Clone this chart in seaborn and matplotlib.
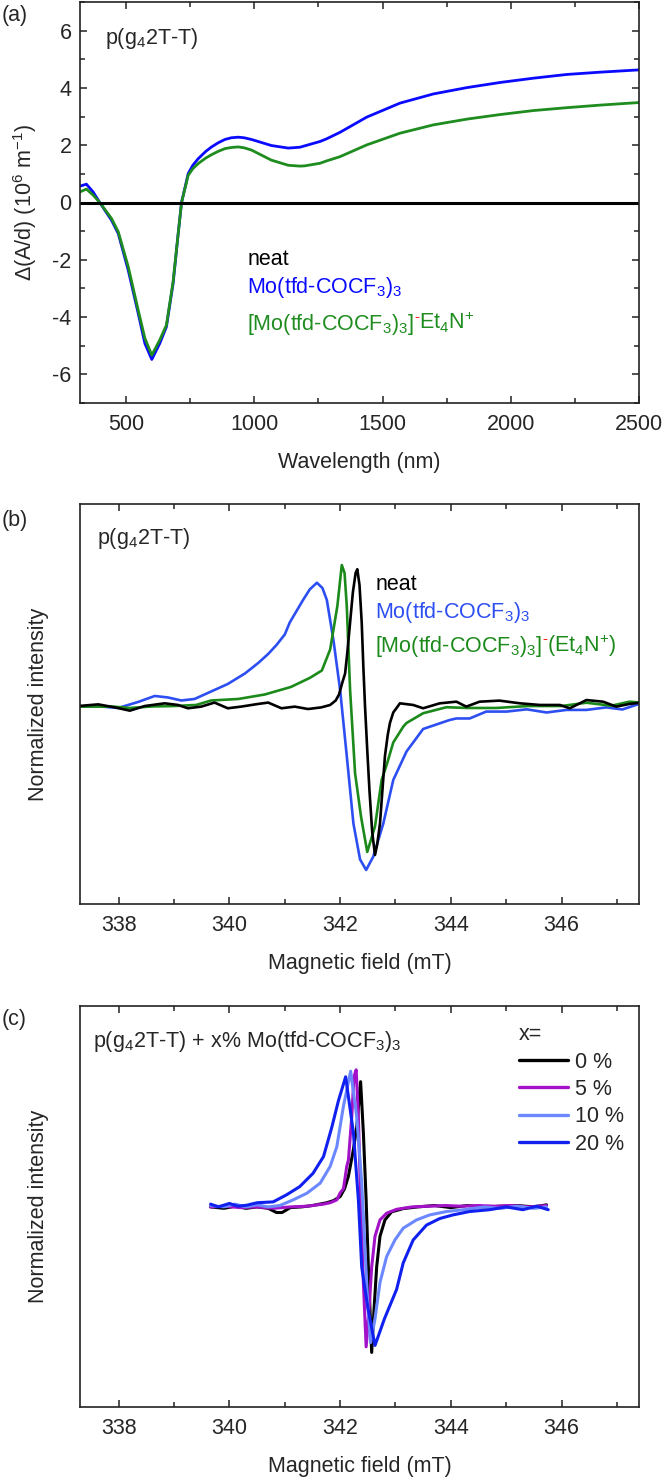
"""
Three stacked panels: UV-vis-NIR difference spectra and EPR spectra
"""

import matplotlib
matplotlib.use('Agg')
import matplotlib.pyplot as plt
from matplotlib.ticker import MultipleLocator, NullLocator
from matplotlib.lines import Line2D
from matplotlib.transforms import offset_copy
import seaborn as sns

# ---- panel (a): difference absorbance, 10^6 m^-1 ----
wl_a = [320, 345, 371, 397, 443, 469, 508, 547, 573, 600, 631, 657, 683, 703, 716,
        742, 760, 781, 810, 833, 860, 885, 910, 937, 960, 989, 1066, 1132, 1178, 1197,
        1256, 1281, 1334, 1438, 1568, 1698, 1828, 1958, 2088, 2218, 2348, 2500]
mo_a = [0.57, 0.64, 0.37, 0.0, -0.62, -1.08, -2.36, -3.87, -4.92, -5.48, -4.92, -4.34,
        -2.83, -1.08, 0.0, 1.01, 1.30, 1.53, 1.78, 1.94, 2.09, 2.20, 2.26, 2.28, 2.26,
        2.20, 1.99, 1.90, 1.93, 1.98, 2.13, 2.22, 2.45, 2.98, 3.47, 3.79, 4.01, 4.19,
        4.34, 4.47, 4.55, 4.63]
anion_a = [0.37, 0.47, 0.26, 0.0, -0.56, -1.02, -2.24, -3.76, -4.74, -5.33, -4.80, -4.28,
           -2.77, -1.08, 0.0, 0.95, 1.18, 1.36, 1.55, 1.67, 1.79, 1.88, 1.92, 1.94, 1.91,
           1.83, 1.48, 1.30, 1.27, 1.28, 1.37, 1.45, 1.60, 2.01, 2.42, 2.71, 2.91, 3.07,
           3.21, 3.31, 3.40, 3.49]
neat_a = [0.0] * len(wl_a)

# ---- panel (b): EPR, normalized ----
b_neat_x = [337.27, 337.63, 337.93, 338.20, 338.47, 338.83, 339.07, 339.25, 339.49, 339.73,
            339.97, 340.21, 340.52, 340.70, 340.94, 341.18, 341.42, 341.66, 341.82, 341.92,
            341.98, 342.04, 342.09, 342.13, 342.18, 342.23, 342.28, 342.31, 342.35, 342.39,
            342.42, 342.45, 342.49, 342.53, 342.58, 342.63, 342.67, 342.72, 342.81, 342.86,
            342.90, 342.96, 343.02, 343.08, 343.32, 343.50, 343.80, 344.10, 344.28, 344.52,
            344.88, 345.25, 345.61, 345.97, 346.15, 346.45, 346.75, 346.99, 347.23, 347.44]
b_neat_y = [-0.007, 0.004, -0.016, -0.038, -0.007, 0.011, 0.0, -0.022, -0.011, 0.016,
            -0.022, -0.011, 0.007, 0.016, -0.022, -0.011, -0.027, -0.016, 0.0, 0.03,
            0.07, 0.15, 0.21, 0.35, 0.55, 0.75, 0.88, 0.905, 0.80, 0.55,
            0.25, -0.01, -0.30, -0.57, -0.85, -1.0, -0.93, -0.79, -0.34, -0.20,
            -0.12, -0.05, -0.02, 0.011, 0.0, -0.022, 0.011, 0.022, -0.011, 0.022,
            0.029, 0.011, 0.0, 0.0, -0.022, 0.033, 0.022, -0.011, 0.007, 0.016]

b_mo_x = [337.27, 337.70, 337.99, 338.35, 338.65, 338.89, 339.13, 339.37, 339.67, 339.97,
          340.28, 340.52, 340.70, 340.85, 341.00, 341.09, 341.33, 341.45, 341.58, 341.68,
          341.76, 341.88, 342.00, 342.12, 342.24, 342.36, 342.47, 342.60, 342.78, 342.96,
          343.20, 343.50, 343.74, 343.98, 344.10, 344.34, 344.64, 345.01, 345.37, 345.73,
          346.09, 346.45, 346.81, 347.10, 347.40]
b_mo_y = [-0.011, -0.011, -0.02, 0.02, 0.06, 0.05, 0.03, 0.04, 0.09, 0.14,
          0.21, 0.28, 0.34, 0.40, 0.47, 0.55, 0.70, 0.77, 0.815, 0.78,
          0.70, 0.43, 0.10, -0.34, -0.79, -1.03, -1.10, -1.01, -0.79, -0.50,
          -0.31, -0.16, -0.13, -0.10, -0.09, -0.09, -0.044, -0.044, -0.029, -0.05,
          -0.033, -0.033, -0.016, -0.03, 0.007]

b_anion_x = [337.27, 337.90, 338.20, 338.60, 339.00, 339.40, 339.67, 340.16, 340.64, 341.11,
             341.45, 341.67, 341.82, 341.95, 342.03, 342.08, 342.12, 342.18, 342.27, 342.38,
             342.49, 342.63, 342.75, 342.84, 342.96, 343.14, 343.20, 343.50, 343.92, 344.30,
             344.82, 345.40, 346.00, 346.45, 346.90, 347.23, 347.44]
b_anion_y = [-0.011, -0.011, -0.02, -0.01, -0.007, 0.0, 0.03, 0.04, 0.07, 0.12,
             0.18, 0.23, 0.37, 0.66, 0.933, 0.88, 0.66, 0.10, -0.455, -0.75,
             -0.98, -0.81, -0.50, -0.40, -0.25, -0.145, -0.12, -0.055, -0.015, -0.02,
             -0.02, -0.007, -0.007, 0.015, -0.005, 0.022, 0.016]

# ---- panel (c): EPR vs dopant fraction ----
c_labels = ['0 %', '5 %', '10 %', '20 %']

c0_x = [339.66, 339.90, 340.10, 340.30, 340.50, 340.70, 340.85, 340.95, 341.10, 341.30,
        341.50, 341.76, 341.88, 342.00, 342.08, 342.15, 342.24, 342.30, 342.37, 342.42,
        342.47, 342.51, 342.57, 342.61, 342.66, 342.72, 342.81, 342.93, 343.14, 343.40,
        343.70, 344.00, 344.30, 344.60, 344.90, 345.20, 345.50, 345.73]
c0_y = [0.0, -0.01, 0.005, -0.01, 0.0, -0.01, -0.04, -0.04, -0.005, 0.0,
        0.01, 0.03, 0.045, 0.074, 0.13, 0.22, 0.41, 0.57, 0.895, 0.53,
        0.05, -0.43, -1.04, -0.75, -0.43, -0.21, -0.093, -0.035, -0.012, 0.0,
        0.01, -0.005, 0.01, 0.0, 0.005, 0.01, 0.0, 0.015]

c5_x = [339.66, 339.90, 340.20, 340.50, 340.80, 341.10, 341.40, 341.70, 341.82, 341.94,
        342.00, 342.06, 342.12, 342.15, 342.21, 342.25, 342.29, 342.33, 342.37, 342.42,
        342.47, 342.52, 342.57, 342.63, 342.72, 342.84, 343.02, 343.30, 343.60, 343.90,
        344.20, 344.50, 344.80, 345.10, 345.40, 345.73]
c5_y = [0.0, 0.005, -0.005, 0.0, -0.01, 0.0, 0.005, 0.02, 0.03, 0.05,
        0.10, 0.13, 0.29, 0.335, 0.645, 0.93, 0.98, 0.645, 0.05, -0.54,
        -1.0, -0.75, -0.43, -0.21, -0.093, -0.045, -0.017, 0.0, 0.005, 0.01,
        0.005, 0.01, 0.005, 0.01, 0.0, 0.01]

c10_x = [339.66, 339.90, 340.10, 340.30, 340.50, 340.70, 340.91, 341.15, 341.40, 341.64,
         341.82, 341.94, 342.06, 342.19, 342.30, 342.39, 342.45, 342.50, 342.55, 342.63,
         342.72, 342.84, 342.99, 343.14, 343.38, 343.62, 343.92, 344.30, 344.60, 344.90,
         345.20, 345.50, 345.73]
c10_y = [0.01, 0.0, 0.02, 0.0, 0.015, 0.0, 0.01, 0.05, 0.098, 0.17,
         0.29, 0.43, 0.72, 0.97, 0.645, 0.17, -0.31, -0.70, -0.97, -0.80,
         -0.54, -0.355, -0.236, -0.152, -0.093, -0.057, -0.033, -0.017, 0.0, -0.01,
         0.005, -0.01, 0.0]

c20_x = [339.66, 339.80, 340.00, 340.15, 340.31, 340.50, 340.79, 341.03, 341.27, 341.51,
         341.70, 341.85, 341.97, 342.10, 342.24, 342.33, 342.39, 342.50, 342.63, 342.80,
         343.02, 343.14, 343.32, 343.56, 343.80, 344.04, 344.34, 344.70, 345.00, 345.30,
         345.55, 345.76]
c20_y = [0.02, 0.0, 0.025, 0.005, 0.012, 0.03, 0.036, 0.086, 0.145, 0.24,
         0.36, 0.57, 0.76, 0.93, 0.53, 0.05, -0.43, -0.72, -0.99, -0.80,
         -0.59, -0.40, -0.236, -0.13, -0.083, -0.057, -0.033, -0.02, 0.0, -0.02,
         0.005, -0.02]

# colours
BLUE_A, GREEN_A = '#0a0aff', '#1e8c1e'
BLUE_B, GREEN_B = '#2d4ff2', '#1b8a1b'
C_COLORS = ['#000000', '#a312c8', '#6c88ff', '#1020ee']
RED = '#ff1a1a'

sns.set_theme(style='ticks')
plt.rcParams['font.family'] = ['Liberation Sans', 'DejaVu Sans']
plt.rcParams['mathtext.fontset'] = 'custom'
plt.rcParams['mathtext.rm'] = 'Liberation Sans'
plt.rcParams['mathtext.it'] = 'Liberation Sans:italic'
plt.rcParams['mathtext.bf'] = 'Liberation Sans:bold'
plt.rcParams['axes.unicode_minus'] = False
FS = 15.5
DPI = 100

fig = plt.figure(figsize=(6.64, 14.78), dpi=DPI)
H = 1478.0
W = 664.0
renderer = fig.canvas.get_renderer()


def make_axes(top_px, bottom_px):
    return fig.add_axes([80 / W, 1 - bottom_px / H, 559 / W, (bottom_px - top_px) / H])


def style_axes(ax, y_ticks=True):
    for sp in ax.spines.values():
        sp.set_linewidth(1.2)
        sp.set_color('#222222')
    ax.tick_params(which='both', direction='in', top=True, right=y_ticks, left=y_ticks,
                   width=1.1, color='#222222', labelsize=FS)
    ax.tick_params(which='major', length=5)
    ax.tick_params(which='minor', length=3.5)
    ax.tick_params(axis='x', pad=8)
    ax.tick_params(axis='y', pad=6)


def chained_label(ax, x, y, parts):
    """write coloured pieces one after another; each part is (text, colour, size, rise)"""
    shift = 0.0
    for txt, col, size, rise in parts:
        tr = offset_copy(ax.transAxes, fig=fig, x=shift, y=rise, units='points')
        t = ax.text(x, y, txt, color=col, fontsize=size, ha='left', va='baseline', transform=tr)
        shift += t.get_window_extent(renderer).width * 72.0 / DPI


# ---------------- (a) ----------------
ax1 = make_axes(2, 403)
sns.lineplot(x=wl_a, y=mo_a, ax=ax1, color=BLUE_A, lw=2.0, sort=False, estimator=None)
sns.lineplot(x=wl_a, y=anion_a, ax=ax1, color=GREEN_A, lw=2.0, sort=False, estimator=None)
sns.lineplot(x=wl_a, y=neat_a, ax=ax1, color='black', lw=2.2, sort=False, estimator=None)
ax1.set_xlim(320, 2500)
ax1.set_ylim(-7, 7)
ax1.xaxis.set_major_locator(MultipleLocator(500))
ax1.xaxis.set_minor_locator(MultipleLocator(250))
ax1.yaxis.set_major_locator(MultipleLocator(2))
ax1.yaxis.set_minor_locator(MultipleLocator(1))
style_axes(ax1)
ax1.set_xlabel('Wavelength (nm)', fontsize=FS, labelpad=12)
ax1.set_ylabel('Δ(A/d) (10$^{6}$ m$^{-1}$)', fontsize=FS, labelpad=10)
ax1.text(0.045, 0.895, r'p(g$_4$2T-T)', transform=ax1.transAxes, fontsize=FS, va='baseline')
ax1.text(0.299, 0.345, 'neat', transform=ax1.transAxes, fontsize=FS, color='black', va='baseline')
ax1.text(0.299, 0.275, r'Mo(tfd-COCF$_3$)$_3$', transform=ax1.transAxes, fontsize=FS,
         color=BLUE_A, va='baseline')
chained_label(ax1, 0.299, 0.183, [(r'[Mo(tfd-COCF$_3$)$_3$]', GREEN_A, FS, 0),
                                  ('-', RED, 11, 6.5),
                                  (r'Et$_4$N$^{+}$', GREEN_A, FS, 0)])

# ---------------- (b) ----------------
ax2 = make_axes(504, 904)
sns.lineplot(x=b_mo_x, y=b_mo_y, ax=ax2, color=BLUE_B, lw=1.9, sort=False, estimator=None)
sns.lineplot(x=b_anion_x, y=b_anion_y, ax=ax2, color=GREEN_B, lw=1.9, sort=False, estimator=None)
sns.lineplot(x=b_neat_x, y=b_neat_y, ax=ax2, color='black', lw=1.9, sort=False, estimator=None)
ax2.set_xlim(337.3, 347.4)
ax2.set_ylim(-1.327, 1.34)
ax2.xaxis.set_major_locator(MultipleLocator(2))
ax2.xaxis.set_minor_locator(MultipleLocator(1))
ax2.yaxis.set_major_locator(NullLocator())
ax2.yaxis.set_minor_locator(NullLocator())
style_axes(ax2, y_ticks=False)
ax2.set_xlabel('Magnetic field (mT)', fontsize=FS, labelpad=12)
ax2.set_ylabel('Normalized intensity', fontsize=FS, labelpad=22)
ax2.text(0.030, 0.90, r'p(g$_4$2T-T)', transform=ax2.transAxes, fontsize=FS, va='baseline')
ax2.text(0.528, 0.785, 'neat', transform=ax2.transAxes, fontsize=FS, color='black', va='baseline')
ax2.text(0.528, 0.715, r'Mo(tfd-COCF$_3$)$_3$', transform=ax2.transAxes, fontsize=FS,
         color=BLUE_B, va='baseline')
chained_label(ax2, 0.528, 0.63, [(r'[Mo(tfd-COCF$_3$)$_3$]', GREEN_B, FS, 0),
                                 ('-', RED, 11, 6.5),
                                 (r'(Et$_4$N$^{+}$)', GREEN_B, FS, 0)])

# ---------------- (c) ----------------
ax3 = make_axes(1006, 1407)
c_series = [(c0_x, c0_y), (c5_x, c5_y), (c10_x, c10_y), (c20_x, c20_y)]
for (xs, ys), col in zip(c_series, C_COLORS):
    sns.lineplot(x=xs, y=ys, ax=ax3, color=col, lw=2.2, sort=False, estimator=None)
ax3.set_xlim(337.3, 347.4)
ax3.set_ylim(-1.43, 1.436)
ax3.xaxis.set_major_locator(MultipleLocator(2))
ax3.xaxis.set_minor_locator(MultipleLocator(1))
ax3.yaxis.set_major_locator(NullLocator())
ax3.yaxis.set_minor_locator(NullLocator())
style_axes(ax3, y_ticks=False)
ax3.set_xlabel('Magnetic field (mT)', fontsize=FS, labelpad=12)
ax3.set_ylabel('Normalized intensity', fontsize=FS, labelpad=22)
ax3.text(0.023, 0.898, r'p(g$_4$2T-T) + x% Mo(tfd-COCF$_3$)$_3$', transform=ax3.transAxes,
         fontsize=FS, va='baseline')
handles = [Line2D([], [], color=c, lw=2.4) for c in C_COLORS]
leg = ax3.legend(handles, c_labels, title='x=', loc='upper left', bbox_to_anchor=(0.785, 0.955),
                 frameon=False, fontsize=FS, title_fontsize=FS, handlelength=2.3,
                 handletextpad=0.3, labelspacing=0.3, borderpad=0, borderaxespad=0,
                 alignment='left')

# panel letters
fig.text(0.002, 1 - 15 / H, '(a)', fontsize=FS, va='center')
fig.text(0.002, 1 - 520 / H, '(b)', fontsize=FS, va='center')
fig.text(0.002, 1 - 1020 / H, '(c)', fontsize=FS, va='center')

fig.savefig('out.png', dpi=DPI, facecolor='white')
